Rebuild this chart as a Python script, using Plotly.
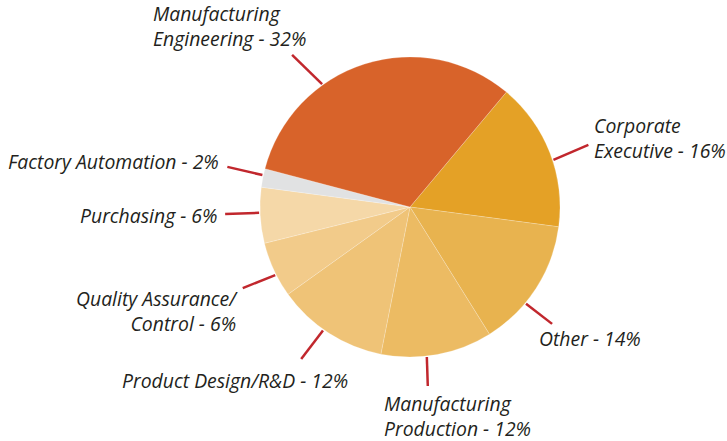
import math
import plotly.graph_objects as go

# ---- data ----
categories = ["Corporate Executive", "Other", "Manufacturing Production",
              "Product Design/R&D", "Quality Assurance/Control", "Purchasing",
              "Factory Automation", "Manufacturing Engineering"]
shares = [16, 14, 12, 12, 6, 6, 2, 32]
label_texts = ["Corporate<br>Executive - 16%", "Other - 14%",
               "Manufacturing<br>Production - 12%", "Product Design/R&D - 12%",
               "Quality Assurance/<br>Control - 6%", "Purchasing - 6%",
               "Factory Automation - 2%", "Manufacturing<br>Engineering - 32%"]

# ---- style ----
colors = ["#E4A126", "#E8B34F", "#ECBB63", "#EFC377", "#F2CB8A", "#F5D8A8",
          "#E1E2E3", "#D8632A"]
W, H = 727, 441
CX, CY, R = 410, 207, 150
ROTATION = 40
# per-label leader tweaks: angle offset from slice middle, direction offset, length
lead_adj = [3, 7, 4, 2.4, -2, 1, 1, -18]
lead_dir = [-5, -2, 4.5, 2, 5, 0, 1, -10]
lead_len = [38, 33, 29, 36, 35, 34, 36, 42]
# label offsets from leader outer end (px), and anchors
lab_dx = [4, -15, -46, 49, -3, -6, -6, -141]
lab_dy = [-7, 15, 30, 21, 23, 1, -5, -29]
lab_xanchor = ["left", "left", "left", "right", "right", "right", "right", "left"]

LINE_COLOR = "#C1272D"
TEXT_COLOR = "#231F20"
FONT = "Open Sans"
FONT_SIZE = 19.4

fig = go.Figure(go.Pie(
    labels=categories, values=shares, sort=False, direction="clockwise",
    rotation=ROTATION, textinfo="none", hoverinfo="label+percent",
    marker=dict(colors=colors, line=dict(color="rgba(255,255,255,0.35)", width=0.6)),
    domain=dict(x=[(CX - R) / W, (CX + R) / W],
                y=[(H - CY - R) / H, (H - CY + R) / H]),
    showlegend=False,
))

def px(x, y):
    return x / W, 1 - y / H

total = sum(shares)
cum = 0
shapes, annotations = [], []
for i, v in enumerate(shares):
    mid = ROTATION + (cum + v / 2) / total * 360
    cum += v
    th = math.radians(mid + lead_adj[i])
    x0 = CX + (R + 1) * math.sin(th)
    y0 = CY - (R + 1) * math.cos(th)
    ph = math.radians(mid + lead_adj[i] + lead_dir[i])
    x1 = x0 + lead_len[i] * math.sin(ph)
    y1 = y0 - lead_len[i] * math.cos(ph)
    a0, b0 = px(x0, y0)
    a1, b1 = px(x1, y1)
    shapes.append(dict(type="line", xref="paper", yref="paper", x0=a0, y0=b0,
                       x1=a1, y1=b1, line=dict(color=LINE_COLOR, width=2.5)))
    ax, ay = px(x1 + lab_dx[i], y1 + lab_dy[i])
    annotations.append(dict(
        x=ax, y=ay, xref="paper", yref="paper", text="<i>" + label_texts[i] + "</i>",
        showarrow=False, xanchor=lab_xanchor[i], yanchor="middle",
        align=lab_xanchor[i], font=dict(family=FONT, size=FONT_SIZE, color=TEXT_COLOR)))

fig.update_layout(
    width=W, height=H, margin=dict(l=0, r=0, t=0, b=0),
    paper_bgcolor="white", plot_bgcolor="white",
    shapes=shapes, annotations=annotations,
)
fig.write_html("out.html", config={"displayModeBar": False},
               post_script="document.body.style.margin='0px';")
